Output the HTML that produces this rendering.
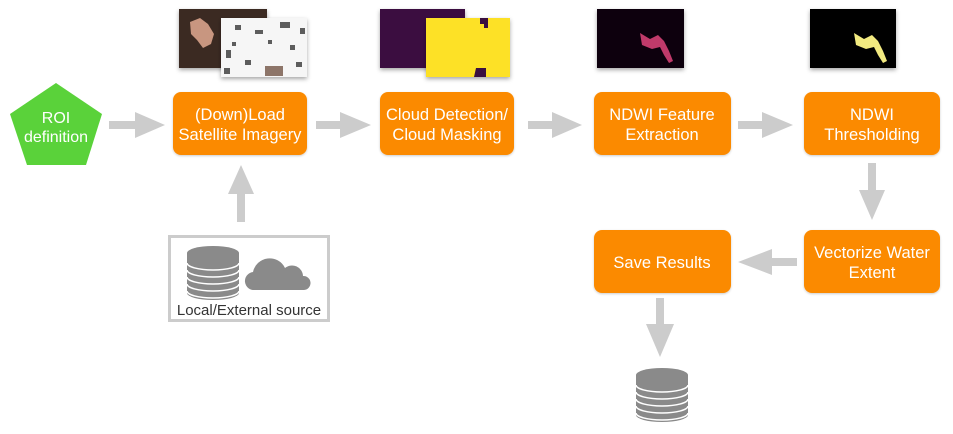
<!DOCTYPE html>
<html><head><meta charset="utf-8"><style>
html,body{margin:0;padding:0;background:#fff;}
svg{display:block;font-family:"Liberation Sans",sans-serif;}
</style></head><body>
<svg width="953" height="434" viewBox="0 0 953 434" xmlns="http://www.w3.org/2000/svg">
<defs>
<filter id="sh" x="-20%" y="-20%" width="140%" height="150%"><feDropShadow dx="0" dy="2" stdDeviation="2" flood-color="#000" flood-opacity="0.35"/></filter>
<filter id="bs" x="-10%" y="-10%" width="120%" height="130%"><feDropShadow dx="0" dy="1" stdDeviation="1" flood-color="#000" flood-opacity="0.2"/></filter>
<g id="db">
<rect x="0" y="0" width="52" height="40" fill="#8a8a8a"/>
<ellipse cx="26" cy="0" rx="26" ry="7" fill="#8a8a8a"/>
<ellipse cx="26" cy="40" rx="26" ry="7" fill="#8a8a8a"/>
<path d="M0 10 A26 7 0 0 0 52 10 M0 17 A26 7 0 0 0 52 17 M0 24 A26 7 0 0 0 52 24 M0 31 A26 7 0 0 0 52 31 M0 38 A26 7 0 0 0 52 38" fill="none" stroke="#fff" stroke-width="1.5"/>
</g>
</defs>

<!-- images -->
<g filter="url(#sh)">
<rect x="179" y="9" width="88" height="59" fill="#3a2a22"/>
</g>
<path d="M190 22 l10 -4 l8 6 l6 10 l-3 10 l-8 4 l-6 -8 l-6 -6z" fill="#c89680"/>
<g filter="url(#sh)"><rect x="221" y="18" width="86" height="59" fill="#f6f6f6"/></g>
<g fill="#2a2a2a" opacity="0.75">
<rect x="235" y="25" width="6" height="5"/><rect x="255" y="30" width="8" height="4"/><rect x="280" y="22" width="10" height="6"/><rect x="226" y="50" width="5" height="8"/><rect x="245" y="60" width="6" height="5"/><rect x="290" y="45" width="5" height="5"/><rect x="265" y="66" width="18" height="10" fill="#6a4a3a"/><rect x="232" y="42" width="4" height="4"/>
<rect x="300" y="28" width="5" height="6"/><rect x="224" y="68" width="6" height="6"/><rect x="268" y="40" width="4" height="4"/><rect x="296" y="62" width="6" height="5"/>
</g>

<g filter="url(#sh)"><rect x="380" y="9" width="85" height="59" fill="#3a1040"/></g>
<g filter="url(#sh)"><rect x="426" y="18" width="84" height="59" fill="#fde125"/></g>
<path d="M480 18 h8 v10 h-4 v-4 h-4z M476 68 h10 v9 h-12z" fill="#3a1040"/>

<g filter="url(#sh)"><rect x="597" y="9" width="87" height="59" fill="#08060c"/></g>
<path d="M640 33 l10 6 l8 -4 l6 6 l5 10 l4 10 l-4 2 l-5 -8 l-4 -8 l-8 2 l-10 -4z" fill="#c03a6a"/>
<g filter="url(#sh)"><rect x="810" y="9" width="86" height="59" fill="#050505"/></g>
<path d="M854 33 l10 6 l8 -4 l6 6 l5 10 l4 10 l-4 2 l-5 -8 l-4 -8 l-8 2 l-10 -4z" fill="#f2ea80"/>

<!-- pentagon -->
<polygon points="56,83 102,114 86,165 27,165 10,114" fill="#5ad23a"/>
<text x="56" y="123" fill="#fff" font-size="16" text-anchor="middle">ROI</text>
<text x="56" y="142" fill="#fff" font-size="16" text-anchor="middle">definition</text>

<!-- arrows -->
<g fill="#cccccc">
<polygon points="109,121 135,121 135,112 165,125 135,138 135,129 109,129"/>
<polygon points="316,121 340,121 340,112 371,125 340,138 340,129 316,129"/>
<polygon points="528,121 552,121 552,112 582,125 552,138 552,129 528,129"/>
<polygon points="738,121 762,121 762,112 793,125 762,138 762,129 738,129"/>
<polygon points="237,222 237,194 228,194 241,165 254,194 245,194 245,222"/>
<polygon points="868,163 876,163 876,190 885,190 872,220 859,190 868,190"/>
<polygon points="797,258 772,258 772,249 738,262 772,275 772,266 797,266"/>
<polygon points="656,298 664,298 664,324 674,324 660,357 646,324 656,324"/>
</g>

<!-- boxes -->
<g fill="#fb8a03" filter="url(#bs)">
<rect x="173" y="92" width="134" height="63" rx="8"/>
<rect x="380" y="92" width="134" height="63" rx="8"/>
<rect x="594" y="92" width="137" height="63" rx="8"/>
<rect x="804" y="92" width="136" height="63" rx="8"/>
<rect x="594" y="230" width="137" height="63" rx="8"/>
<rect x="804" y="230" width="136" height="63" rx="8"/>
</g>
<g fill="#fff" font-size="16.5" text-anchor="middle">
<text x="240" y="120">(Down)Load</text><text x="240" y="140">Satellite Imagery</text>
<text x="447" y="120">Cloud Detection/</text><text x="447" y="140">Cloud Masking</text>
<text x="662" y="120">NDWI Feature</text><text x="662" y="140">Extraction</text>
<text x="872" y="120">NDWI</text><text x="872" y="140">Thresholding</text>
<text x="662" y="268">Save Results</text>
<text x="872" y="258">Vectorize Water</text><text x="872" y="278">Extent</text>
</g>

<!-- local source -->
<rect x="169.5" y="236.5" width="159" height="84" fill="#fff" stroke="#cccccc" stroke-width="3"/>
<use href="#db" transform="translate(187,253)"/>
<path d="M255 290 a9 9 0 0 1 -2 -18 a17 17 0 0 1 32 -4 a11 11 0 0 1 18 8 a7 7 0 0 1 1 14z" fill="#8a8a8a"/>
<text x="249" y="315" fill="#333" font-size="15" text-anchor="middle">Local/External source</text>

<use href="#db" transform="translate(636,375)"/>
</svg>
</body></html>
